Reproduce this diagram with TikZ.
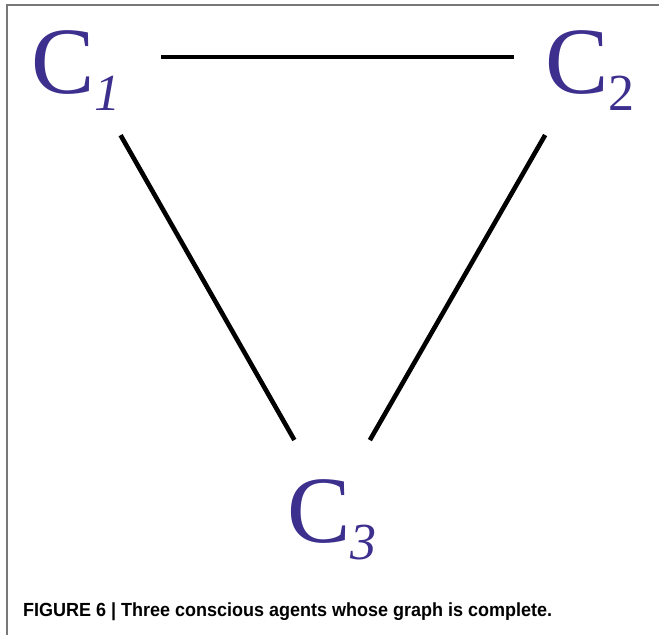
\documentclass[tikz,border=0pt]{standalone}
\usepackage{fontspec}
\newfontfamily\capfont{Liberation Sans}
\newfontfamily\agentfont{Liberation Serif}
\definecolor{agentblue}{RGB}{60,47,142}
\definecolor{framegray}{RGB}{120,120,120}
\newcommand{\agentname}[1]{C\raisebox{-17pt}{\fontsize{52}{52}\selectfont #1}}

\begin{document}
\begin{tikzpicture}[x=1pt, y=-1pt,
  agent/.style={text=agentblue, font=\agentfont\fontsize{95}{95}\selectfont, inner sep=0pt, text height=72pt, text depth=0pt},
  edge/.style={line width=4.6pt}]
\useasboundingbox (0,0) rectangle (659,635);
\draw[framegray, line width=1.2pt] (7,635) -- (7,5) -- (659,5);
\node[agent] (c1) at (76,57) {\agentname{\itshape 1}};
\node[agent] (c2) at (590,57) {\agentname{2}};
\node[agent] (c3) at (332,506) {\agentname{\itshape 3}};
\draw[edge, shorten <=85pt, shorten >=76pt] (c1.center) -- (c2.center);
\draw[edge, shorten <=90pt, shorten >=76pt] (c1.center) -- (c3.center);
\draw[edge, shorten <=90pt, shorten >=76pt] (c2.center) -- (c3.center);
\node[anchor=base west, inner sep=0pt, font=\capfont\bfseries\fontsize{19}{19}\selectfont] (caption) at (23,616) {\scalebox{0.947}[1]{FIGURE 6 | Three conscious agents whose graph is complete.}};
\end{tikzpicture}
\end{document}
